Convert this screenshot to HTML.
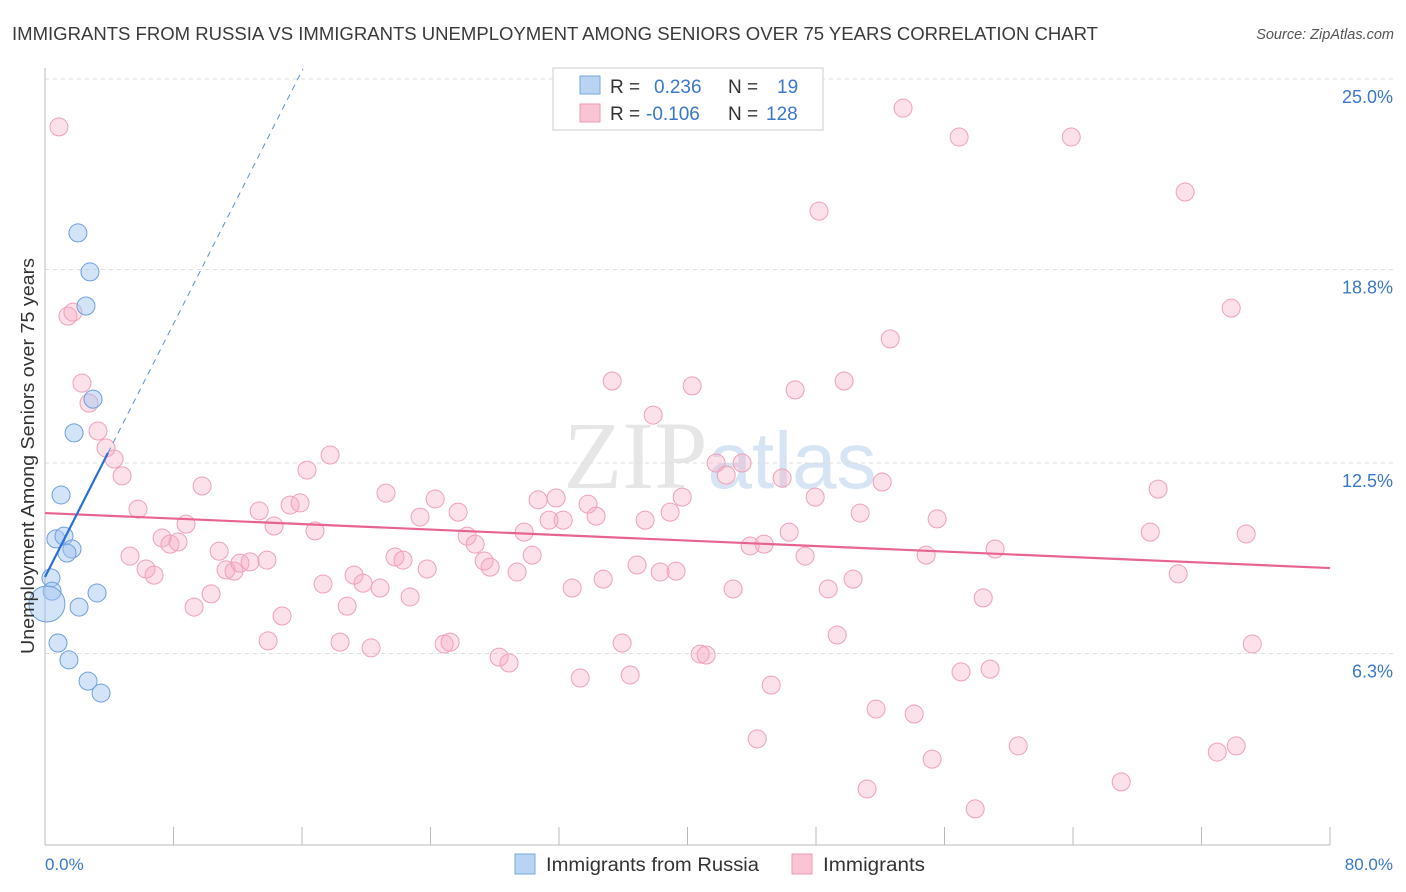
<!DOCTYPE html>
<html><head><meta charset="utf-8"><style>
body{margin:0;background:#fff;font-family:"Liberation Sans",sans-serif;}
#wrap{position:relative;width:1406px;height:892px;overflow:hidden;}
</style></head><body>
<div id="wrap">
<svg id="svg" width="1406" height="892" xmlns="http://www.w3.org/2000/svg">
<text x="12" y="40" font-size="18" textLength="1086" lengthAdjust="spacingAndGlyphs" fill="#3a3a3a">IMMIGRANTS FROM RUSSIA VS IMMIGRANTS UNEMPLOYMENT AMONG SENIORS OVER 75 YEARS CORRELATION CHART</text>
<text x="1394" y="39" font-size="14.5" fill="#555" text-anchor="end" font-style="italic">Source: ZipAtlas.com</text>
<text x="720" y="488" font-size="96" fill="#e6e6e6" text-anchor="middle" font-family="Liberation Serif">ZIP<tspan font-family="Liberation Sans" fill="#d6e4f3" font-size="80">atlas</tspan></text>
<g id="grid"></g>
<g id="axes"></g>
<g id="pts"></g>
<g id="trend"></g>
<text transform="translate(34,456) rotate(-90)" font-size="18" textLength="396" lengthAdjust="spacingAndGlyphs" fill="#333" text-anchor="middle">Unemployment Among Seniors over 75 years</text>
<text x="45" y="870" font-size="17" fill="#3a78c9">0.0%</text>
<text x="1393" y="870" font-size="17" fill="#3a78c9" text-anchor="end">80.0%</text>
<g>
<rect x="553" y="68" width="270" height="62" fill="#fff" stroke="#ccc"/>
<rect x="580" y="76" width="20" height="18" fill="#b9d3f3" stroke="#7aa7e0"/>
<rect x="580" y="104" width="20" height="18" fill="#f9c5d5" stroke="#ee9ab4"/>
<text x="610" y="93" font-size="19" fill="#333">R = <tspan fill="#3a78c9" x="654">0.236</tspan><tspan x="728" fill="#333">N =</tspan><tspan x="777" fill="#3a78c9">19</tspan></text>
<text x="610" y="120" font-size="19" fill="#333">R = <tspan fill="#3a78c9" x="646">-0.106</tspan><tspan x="728" fill="#333">N =</tspan><tspan x="766" fill="#3a78c9">128</tspan></text>
</g>
<g>
<rect x="515" y="854" width="20" height="20" fill="#b9d3f3" stroke="#7aa7e0"/>
<text x="546" y="871" font-size="19" textLength="213" lengthAdjust="spacingAndGlyphs" fill="#333">Immigrants from Russia</text>
<rect x="792" y="854" width="20" height="20" fill="#f9c5d5" stroke="#ee9ab4"/>
<text x="823" y="871" font-size="19" textLength="102" lengthAdjust="spacingAndGlyphs" fill="#333">Immigrants</text>
</g>
</svg>
</div>
<script>
const yTicks=[6.3,12.5,18.8,25.0];
const yTickLabels=["6.3%","12.5%","18.8%","25.0%"];
const xTicks=[0,8,16,24,32,40,48,56,64,72,80];
const russiaX=[2.05,2.80,2.55,2.99,1.81,1.00,0.68,1.18,1.68,1.37,0.37,0.44,3.24,2.12,0.12,0.81,1.49,2.68,3.49];
const russiaY=[19.99,18.72,17.61,14.58,13.48,11.46,10.03,10.12,9.70,9.57,8.76,8.33,8.27,7.81,7.91,6.64,6.09,5.40,5.01];
const russiaBig=[0,0,0,0,0,0,0,0,0,0,0,0,0,0,1,0,0,0,0];
const immX=[0.87,1.43,1.74,2.30,2.74,3.30,3.80,4.30,4.80,5.79,5.29,6.29,6.79,7.29,7.78,8.28,8.78,9.28,9.78,10.34,10.84,11.27,11.77,12.14,12.77,13.33,13.82,14.26,14.76,13.89,15.26,15.88,16.31,16.81,17.31,17.75,18.37,18.81,19.24,19.80,20.30,20.86,21.23,21.79,22.29,22.73,23.35,23.79,24.29,24.85,25.22,25.72,26.28,26.78,27.34,27.71,28.27,28.89,29.39,29.83,30.33,30.70,31.38,31.82,32.26,32.82,33.32,33.81,34.31,34.75,35.31,35.93,36.43,36.86,37.36,37.86,38.30,38.92,39.29,39.67,40.29,40.79,41.16,41.78,42.41,42.84,43.40,43.90,44.34,44.77,45.21,45.89,46.33,46.70,47.32,47.95,48.19,48.76,49.32,49.75,50.31,50.75,51.74,52.12,51.18,52.62,53.42,54.11,54.86,55.23,55.54,56.91,57.03,57.91,58.41,58.84,59.15,60.59,63.89,67.00,68.81,69.30,70.55,70.98,72.98,73.85,74.16,74.78,75.16];
const immY=[23.44,17.28,17.41,15.10,14.45,13.54,12.99,12.63,12.08,11.00,9.47,9.05,8.85,10.06,9.86,9.93,10.51,7.81,11.75,8.24,9.63,9.02,8.98,9.24,9.28,10.94,9.34,10.45,7.52,6.71,11.13,11.20,12.27,10.29,8.56,12.76,6.67,7.84,8.85,8.59,6.48,8.43,11.52,9.44,9.34,8.14,10.74,9.05,11.33,6.61,6.67,10.90,10.12,9.86,9.31,9.11,6.18,5.99,8.95,10.25,9.50,11.30,10.64,11.36,10.64,8.43,5.50,11.16,10.77,8.72,15.17,6.64,5.60,9.18,10.64,14.06,8.95,10.90,8.98,11.39,15.01,6.28,6.25,12.50,12.11,8.40,12.50,9.80,3.52,9.86,5.27,12.01,10.25,14.88,9.47,11.39,20.70,8.40,6.90,15.17,8.72,10.87,4.49,11.88,1.89,16.54,24.05,4.33,9.50,2.86,10.68,23.11,5.70,1.24,8.11,5.79,9.70,3.29,23.11,2.12,10.25,11.65,8.89,21.32,3.09,17.54,3.29,10.19,6.61];
const immTrend=[10.87,9.08];
const russiaTrend=[8.79,1.03];
const x0=45,x1=1330,y0=847,pxPerY=30.72;
function sx(v){return x0+(x1-x0)*v/80;}
function sy(v){return y0-v*pxPerY;}
const NS="http://www.w3.org/2000/svg";
function mk(tag,attrs,parent){const e=document.createElementNS(NS,tag);for(const k in attrs)e.setAttribute(k,attrs[k]);parent.appendChild(e);return e;}
const grid=document.getElementById('grid');
yTicks.forEach((t,i)=>{
  const yy=i===3?79:sy(t);
  const l=mk('line',{x1:45,x2:1393,y1:yy,y2:yy,stroke:'#ddd','stroke-dasharray':'4,4'},grid);
  
  
  const tx=mk('text',{x:1393,y:yy+24,'font-size':18,fill:'#3a78c9','text-anchor':'end'},grid);
  tx.textContent=yTickLabels[i];
  
  
});
const axes=document.getElementById('axes');
const ya=mk('line',{x1:45,x2:45,y1:68,y2:845,stroke:'#bbb'},axes);


const xa=mk('line',{x1:45,x2:1330,y1:845,y2:845,stroke:'#bbb'},axes);


xTicks.forEach(t=>{
  const l=mk('line',{x1:sx(t),x2:sx(t),y1:827,y2:845,stroke:'#bbb'},axes);
  
  
});
const pts=document.getElementById('pts');
immX.forEach((x,i)=>{
  const c=mk('circle',{cx:sx(x),cy:sy(immY[i]),r:9,fill:'rgba(246,170,195,0.35)',stroke:'#f0a0b8','stroke-width':1},pts);
  
  
});
russiaX.forEach((x,i)=>{
  const c=mk('circle',{cx:sx(x),cy:sy(russiaY[i]),r:russiaBig[i]?18:9,fill:'rgba(160,196,240,0.45)',stroke:'#6f9fe0','stroke-width':1},pts);
  
  
});
const tr=document.getElementById('trend');
const pl=mk('line',{x1:sx(0),y1:sy(immTrend[0]),x2:sx(80),y2:sy(immTrend[1]),stroke:'#e8648f','stroke-width':2.2},tr);


const xe=3.92, xd=16.06;
const bl=mk('line',{x1:sx(0),y1:sy(russiaTrend[0]),x2:sx(xe),y2:sy(russiaTrend[0]+russiaTrend[1]*xe),stroke:'#2a6fd6','stroke-width':2.2},tr);


const bd=mk('line',{x1:sx(xe),y1:sy(russiaTrend[0]+russiaTrend[1]*xe),x2:sx(xd),y2:sy(russiaTrend[0]+russiaTrend[1]*xd),stroke:'#5a8fdc','stroke-width':1,'stroke-dasharray':'6,5'},tr);


</script>
</body></html>
